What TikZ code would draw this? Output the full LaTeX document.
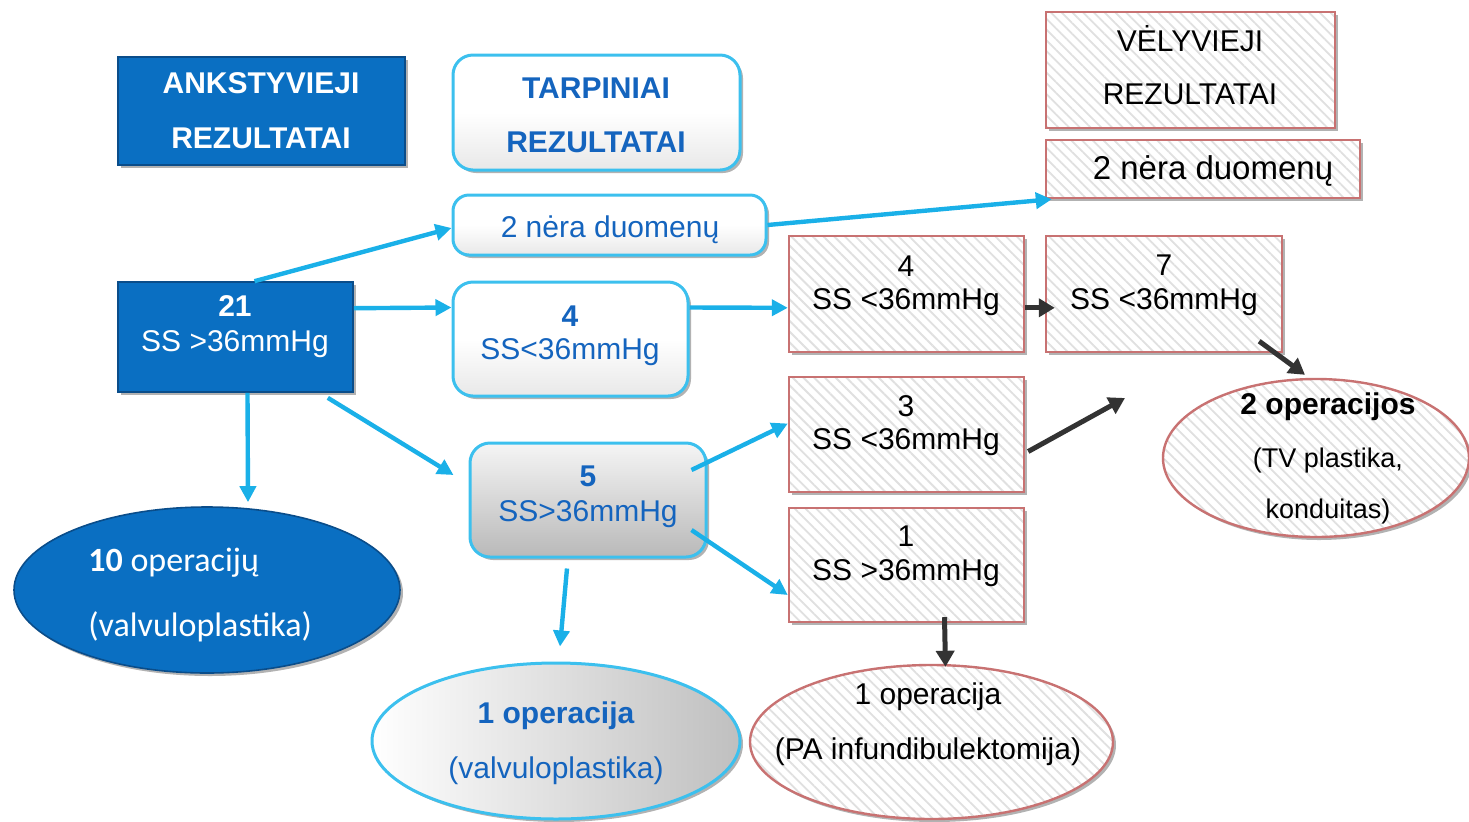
\documentclass[tikz,border=0pt]{standalone}
\usepackage{fontspec}
\setmainfont{Liberation Sans}
\newfontfamily\calib{Carlito}
\usetikzlibrary{shapes.geometric,arrows.meta,calc,patterns.meta,shadows}
\definecolor{ablue}{HTML}{0A6FC2}
\definecolor{adark}{HTML}{0A4D8A}
\definecolor{lblue}{HTML}{3CC0EE}
\definecolor{cblue}{HTML}{1AB0E8}
\definecolor{tblue}{HTML}{1464BE}
\definecolor{rbord}{HTML}{C87272}
\definecolor{hatchc}{HTML}{E0E0E0}
\definecolor{darr}{HTML}{333333}
\begin{document}
\begin{tikzpicture}[x=0.5pt,y=-0.5pt,
  sz/.style 2 args={minimum width=#1*0.5pt, minimum height=#2*0.5pt, inner sep=0pt},
  shad/.style={drop shadow={shadow xshift=1.5pt, shadow yshift=-1.5pt, opacity=0.3, fill=black}},
  bluebox/.style={rectangle, draw=adark, line width=0.8pt, fill=ablue, shad},
  softbox/.style={rectangle, rounded corners=10pt, draw=lblue, line width=1.5pt, top color=white, bottom color=gray!18, middle color=white, shad},
  greybox/.style={rectangle, rounded corners=10pt, draw=lblue, line width=1.5pt, top color=gray!8, bottom color=gray!55, shad},
  hatchbox/.style={rectangle, draw=rbord, line width=1.2pt, preaction={fill=white, shad}, pattern={Lines[angle=-45,distance=3.8pt,line width=0.9pt]}, pattern color=hatchc},
  blueell/.style={ellipse, draw=adark, line width=0.8pt, fill=ablue, shad},
  greyell/.style={ellipse, draw=lblue, line width=1.5pt, left color=white, right color=gray!50, shad},
  hatchell/.style={ellipse, draw=rbord, line width=1.2pt, preaction={fill=white, shad}, pattern={Lines[angle=-45,distance=3.8pt,line width=0.9pt]}, pattern color=hatchc},
  txt/.style={anchor=base, inner sep=0pt, font=\fontsize{15}{18}\selectfont},
  stxt/.style={anchor=base, inner sep=0pt, font=\fontsize{13.5}{16}\selectfont},
  ctxt/.style={anchor=base west, inner sep=0pt, font=\calib\fontsize{17}{20}\selectfont},
  barrow/.style={draw=cblue, line width=2.2pt, -{Triangle[length=8pt,width=8pt]}},
  darrow/.style={draw=darr, line width=2.5pt, -{Triangle[length=8pt,width=9pt]}}
]
\useasboundingbox (0,0) rectangle (1469,821);

% ---- shapes ----
\node[bluebox, sz={287}{108}] (ank) at (261.5,111) {};
\node[softbox, sz={287}{115}] (tarp) at (596.5,112.5) {};
\node[hatchbox, sz={289}{116}] (vel) at (1190.5,70) {};
\node[hatchbox, sz={314}{58}] (nd2) at (1203,169) {};
\node[softbox, sz={313}{60}, rounded corners=8pt] (nd1) at (609.5,225) {};
\node[bluebox, sz={235}{110}] (n21) at (235.5,337) {};
\node[softbox, sz={235}{114}] (n4a) at (570.5,339) {};
\node[greybox, sz={236}{114}] (n5) at (588,500) {};
\node[hatchbox, sz={235}{116}] (b4) at (906.5,294) {};
\node[hatchbox, sz={236}{116}] (b7) at (1164,294) {};
\node[hatchbox, sz={235}{115}] (b3) at (906.5,434.5) {};
\node[hatchbox, sz={235}{114}] (b1) at (906.5,565) {};
\node[blueell, sz={386}{166}] (e10) at (207,590) {};
\node[greyell, sz={368}{156}] (e1) at (556,741) {};
\node[hatchell, sz={363}{154}] (eP) at (931.5,742) {};
\node[hatchell, sz={306}{158}] (e2) at (1316,458) {};

% ---- texts ----
\node[txt, white] (ankA) at (261,93) {\bfseries ANKSTYVIEJI};
\node[txt, white] (ankB) at (261,148) {\bfseries REZULTATAI};
\node[txt, tblue] (tarpA) at (596,98) {\bfseries TARPINIAI};
\node[txt, tblue] (tarpB) at (596,152) {\bfseries REZULTATAI};
\node[txt] (velA) at (1190,51) {VĖLYVIEJI};
\node[txt] (velB) at (1190,104) {REZULTATAI};
\node[txt, font=\fontsize{16.5}{18}\selectfont] (nd2t) at (1213,179) {2 nėra duomenų};
\node[txt, tblue] (nd1t) at (610,237) {2 nėra duomenų};
\node[txt, white] (n21A) at (235,316) {\bfseries 21};
\node[txt, white] (n21B) at (235,351) {SS >36mmHg};
\node[txt, tblue] (n4aA) at (570,326) {\bfseries 4};
\node[txt, tblue] (n4aB) at (570,359) {SS<36mmHg};
\node[txt, tblue] (n5A) at (588,486) {\bfseries 5};
\node[txt, tblue] (n5B) at (588,521) {SS>36mmHg};
\node[txt] (b4A) at (906,276) {4};
\node[txt] (b4B) at (906,309) {SS <36mmHg};
\node[txt] (b7A) at (1164,275) {7};
\node[txt] (b7B) at (1164,309) {SS <36mmHg};
\node[txt] (b3A) at (906,416) {3};
\node[txt] (b3B) at (906,449) {SS <36mmHg};
\node[txt] (b1A) at (906,546) {1};
\node[txt] (b1B) at (906,580) {SS >36mmHg};
\node[ctxt, white] (e10A) at (88,571) {\bfseries 10\mdseries\ operacijų};
\node[ctxt, white] (e10B) at (88,636) {(valvuloplastika)};
\node[txt, tblue] (e1A) at (556,723) {\bfseries 1 operacija};
\node[txt, tblue] (e1B) at (556,778) {(valvuloplastika)};
\node[txt] (ePA) at (928,704) {1 operacija};
\node[txt] (ePB) at (928,759) {(PA infundibulektomija)};
\node[txt] (e2A) at (1328,414) {\bfseries 2 operacijos};
\node[stxt] (e2B) at (1328,467) {(TV plastika,};
\node[stxt] (e2C) at (1328,518) {konduitas)};

% ---- connectors ----
\draw[barrow] ($(n21.north)+(19,0)$) -- ($(nd1.west)+(0,3)$);
\draw[barrow] (nd1.east) -- ($(nd2.south west)+(7,0)$);
\draw[barrow] ($(n21.north east)+(0,27)$) -- ($(n4a.north west)+(0,27)$);
\draw[barrow] ($(n4a.north east)+(0,27)$) -- ($(b4.north west)+(0,73)$);
\draw[barrow] ($(n21.south)+(12,0)$) -- ($(e10.north)+(41,-4)$);
\draw[barrow] ($(n21.south east)+(-26,5)$) -- ($(n5.west)+(-15,-25)$);
\draw[barrow] ($(n5.east)+(-16,-30)$) -- ($(b3.west)+(0,-11)$);
\draw[barrow] ($(n5.east)+(-16,30)$) -- ($(b1.west)+(0,30)$);
\draw[barrow] ($(n5.south)+(-21,10)$) -- ($(e1.north)+(4,-15)$);

\coordinate (d3end) at (1125,398);
\draw[darrow] ($(b4.north east)+(0,73)$) -- ($(b7.north west)+(10,73)$);
\draw[darrow] ($(b7.south east)+(-24,-12)$) -- ($(e2.north)+(-11,-3)$);
\draw[darrow] ($(b3.east)+(3,17)$) -- (d3end);
\draw[darrow] ($(b1.south)+(38,-6)$) -- ($(eP.north)+(14,3)$);
\end{tikzpicture}
\end{document}
